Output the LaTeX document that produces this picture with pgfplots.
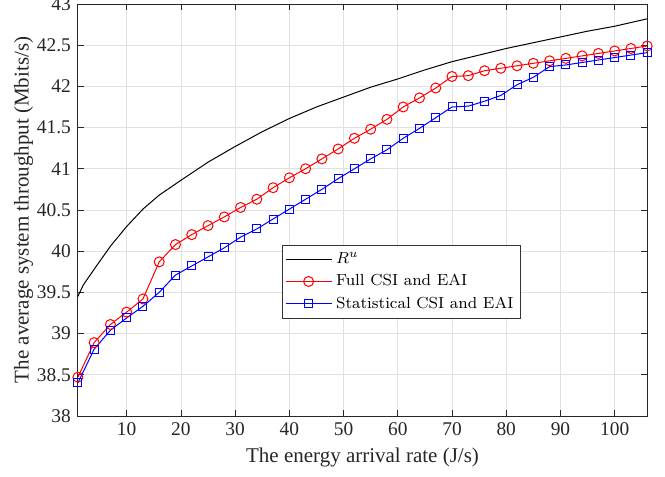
\documentclass[border=0pt]{standalone}
\usepackage{fontspec}
\usepackage{pgfplots}
\pgfplotsset{compat=1.18}
\usetikzlibrary{calc}
\newfontfamily\timesfont{Liberation Serif}

\begin{document}
\begin{tikzpicture}
\begin{axis}[
    scale only axis,
    width=284.7pt, height=206pt,
    xmin=1, xmax=106, ymin=38, ymax=43,
    xtick={10,20,30,40,50,60,70,80,90,100},
    ytick={38,38.5,39,39.5,40,40.5,41,41.5,42,42.5,43},
    grid=major,
    major grid style={black!12, line width=0.4pt},
    axis line style={black!85, line width=0.4pt},
    tick style={black!85, line width=0.4pt},
    tick align=inside, major tick length=3pt,
    /pgf/number format/assume math mode=true,
    ticklabel style={font=\timesfont\fontsize{9.7}{11}\selectfont, text=black!85},
    label style={font=\timesfont\fontsize{10.5}{12}\selectfont, text=black!85},
    xlabel={The energy arrival rate (J/s)},
    ylabel={The average system throughput (Mbits/s)},
    ylabel shift=-5pt,
    xlabel shift=-1pt,
    legend style={at={(0.358,0.415)}, anchor=north west,
                  font=\fontsize{8}{10.5}\selectfont,
                  draw=black!80, fill=white, line width=0.4pt,
                  inner sep=1.5pt, cells={anchor=west}},
    legend image code/.code={\draw[mark repeat=2, mark phase=2]
        plot coordinates {(0pt,0pt) (11.5pt,0pt) (23pt,0pt)};},
]
\addplot[black, line width=0.5pt] coordinates {
(1,39.45)(2,39.59)(4,39.78)(7,40.06)(10,40.30)(13,40.51)(16,40.68)
(20,40.86)(25,41.08)(30,41.27)(35,41.45)(40,41.61)(45,41.75)
(50,41.87)(55,41.99)(60,42.09)(65,42.20)(70,42.30)(75,42.38)
(80,42.46)(85,42.53)(90,42.60)(95,42.67)(100,42.73)(106,42.82)
};
\addplot[red, line width=0.5pt, mark=o, mark size=2.5pt] coordinates {
(1,38.47)(4,38.89)(7,39.11)(10,39.26)(13,39.42)(16,39.87)(19,40.08)
(22,40.20)(25,40.31)(28,40.415)(31,40.53)(34,40.63)(37,40.77)(40,40.89)
(43,41.00)(46,41.12)(49,41.24)(52,41.37)(55,41.48)(58,41.60)(61,41.75)
(64,41.86)(67,41.98)(70,42.12)(73,42.13)(76,42.19)(79,42.22)(82,42.25)
(85,42.28)(88,42.31)(91,42.34)(94,42.37)(97,42.40)(100,42.43)(103,42.46)
(106,42.49)
};
\addplot[blue, line width=0.5pt, mark=square, mark size=2pt] coordinates {
(1,38.40)(4,38.81)(7,39.04)(10,39.19)(13,39.33)(16,39.50)(19,39.71)
(22,39.82)(25,39.93)(28,40.04)(31,40.17)(34,40.27)(37,40.39)(40,40.51)
(43,40.63)(46,40.75)(49,40.88)(52,41.00)(55,41.12)(58,41.23)(61,41.37)
(64,41.49)(67,41.62)(70,41.75)(73,41.76)(76,41.82)(79,41.89)(82,42.02)
(85,42.11)(88,42.24)(91,42.26)(94,42.29)(97,42.32)(100,42.35)(103,42.38)
(106,42.41)
};
\legend{$R^u$, Full CSI and EAI, Statistical CSI and EAI}
\coordinate (sw) at (rel axis cs:0,0);
\coordinate (ne) at (rel axis cs:1,1);
\end{axis}
\pgfresetboundingbox
\useasboundingbox ($(sw)+(-38.95pt,-30.5pt)$) rectangle ($(ne)+(8.9pt,2pt)$);
\end{tikzpicture}
\end{document}
